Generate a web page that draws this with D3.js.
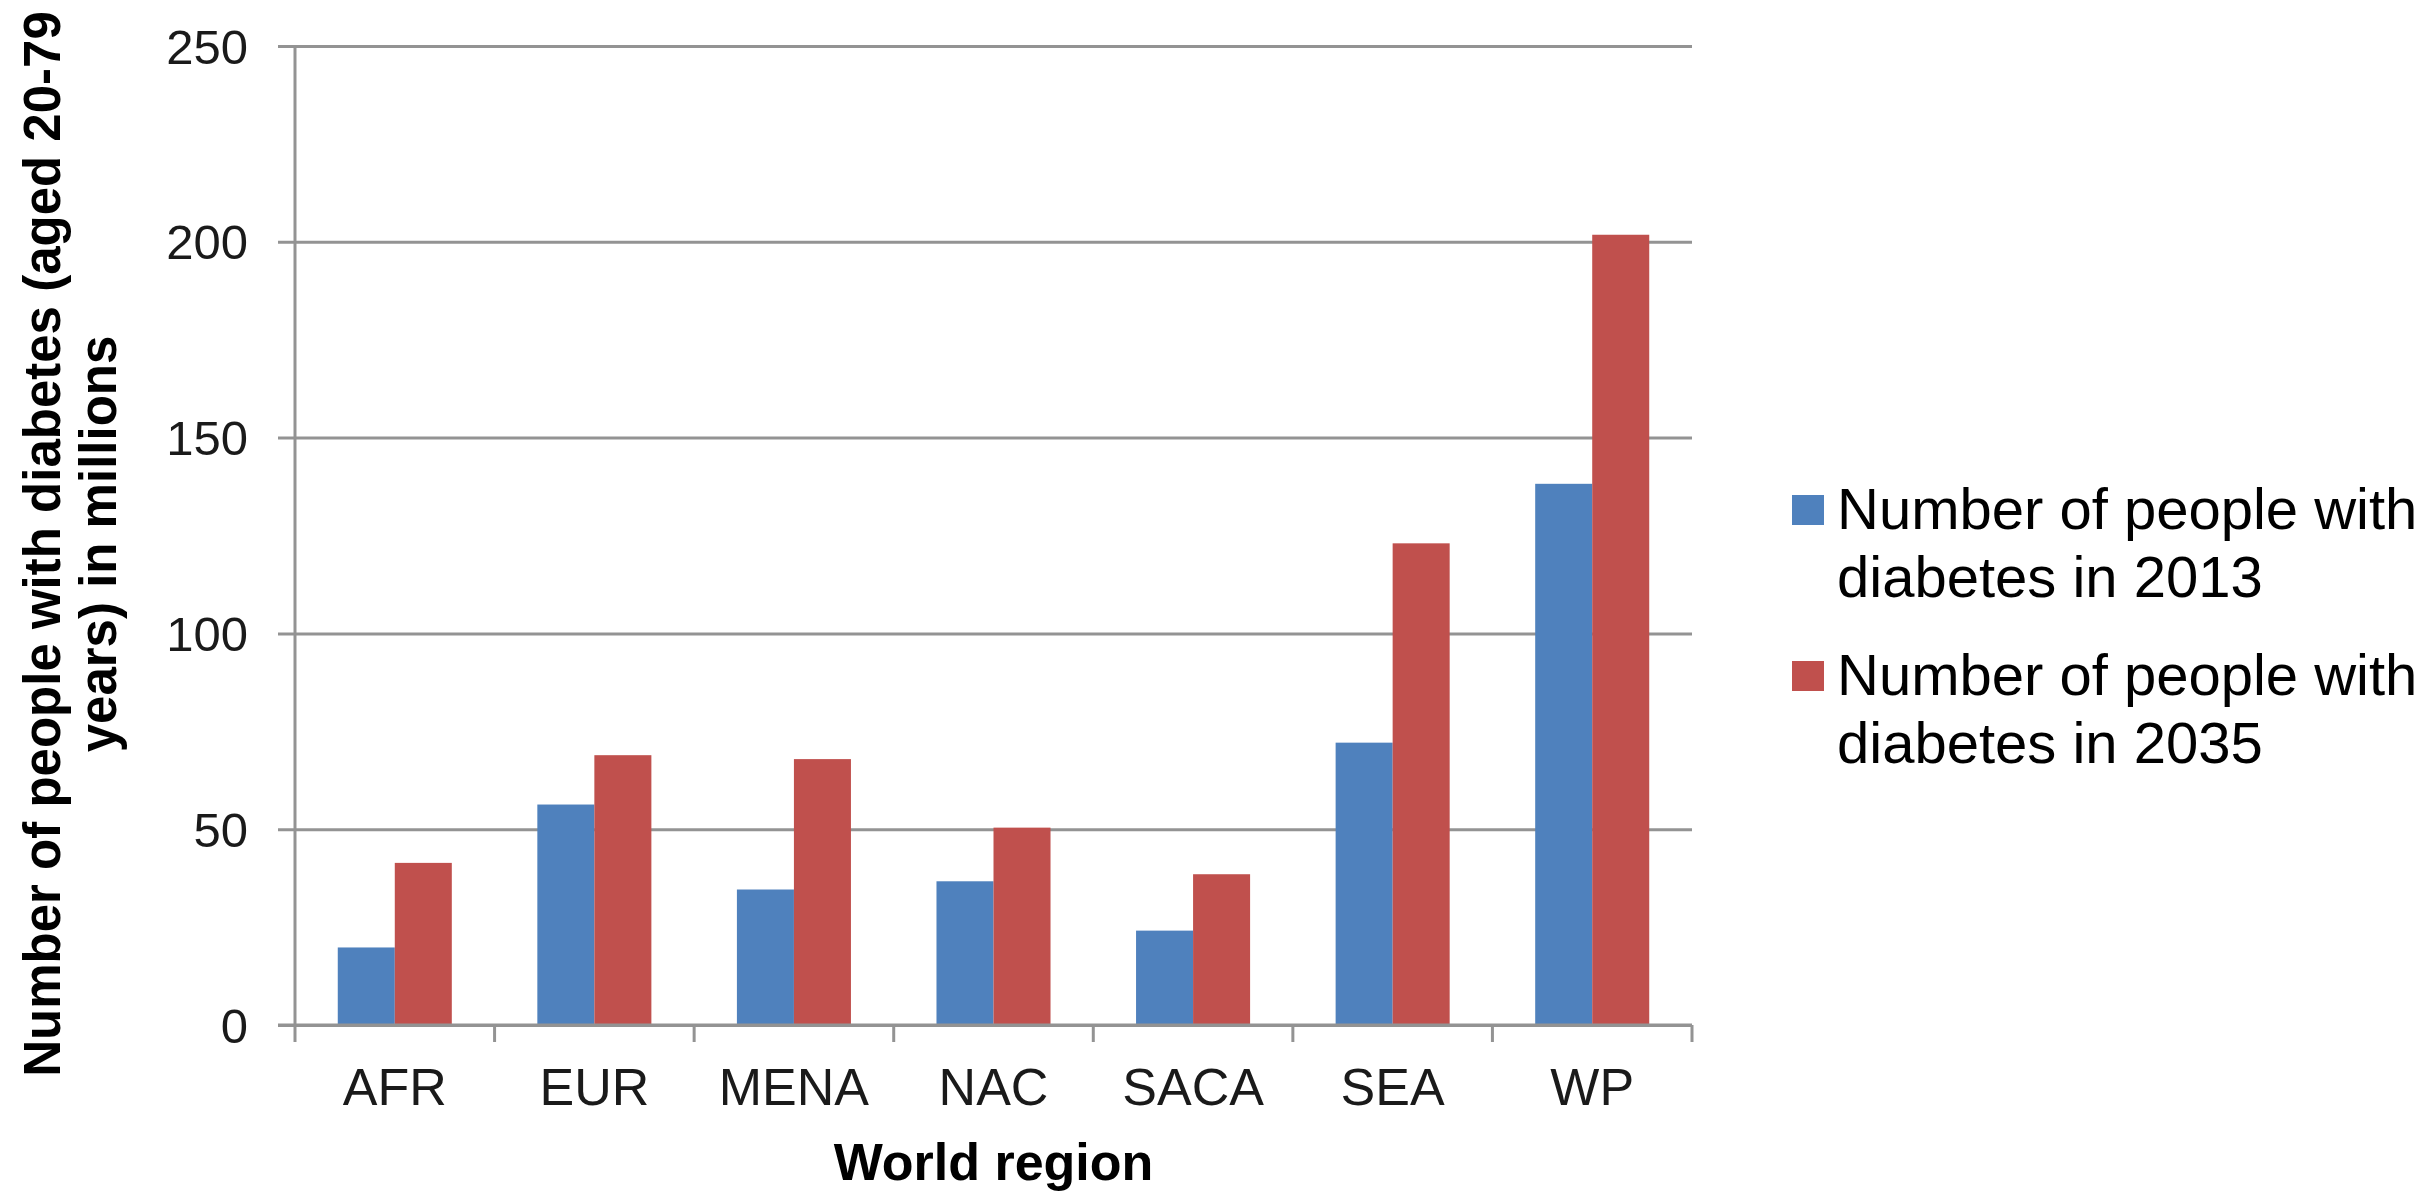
<!DOCTYPE html>
<html>
<head>
<meta charset="utf-8">
<script src="https://cdn.jsdelivr.net/npm/d3@7"></script>
<style>
  html, body { margin: 0; padding: 0; background: #fff; }
  svg { display: block; font-family: "Liberation Sans", Arial, sans-serif; }
</style>
</head>
<body>
<svg id="chart" width="2433" height="1191"></svg>
<script>
// Diabetes prevalence by IDF world region (millions, adults aged 20-79)
const regions = ["AFR", "EUR", "MENA", "NAC", "SACA", "SEA", "WP"];
const seriesNames = [
  "Number of people with diabetes in 2013",
  "Number of people with diabetes in 2035"
];
const values2013 = [19.8, 56.3, 34.6, 36.7, 24.1, 72.1, 138.2];
const values2035 = [41.4, 68.9, 67.9, 50.4, 38.5, 123.0, 201.8];
const yTicks = [0, 50, 100, 150, 200, 250];
const colors = ["#4F81BD", "#C0504D"];

const svg = d3.select("#chart");
const margin = { left: 295, right: 2433 - 1692, top: 46, bottom: 1191 - 1025 };
const W = 2433, H = 1191;
const plotL = margin.left, plotR = W - margin.right;
const plotT = margin.top, plotB = H - margin.bottom;

const x = d3.scaleBand().domain(regions).range([plotL, plotR]).paddingInner(0).paddingOuter(0);
const xInner = d3.scaleBand().domain([0, 1]).range([0, x.bandwidth()]).paddingInner(0).paddingOuter(0.75);
const y = d3.scaleLinear().domain([0, 250]).range([plotB, plotT]);

const axisColor = "#939393";

// horizontal gridlines with small cross ticks at the left of the value axis
const grid = svg.append("g")
  .attr("transform", `translate(${plotL},0)`)
  .call(d3.axisLeft(y).tickValues(yTicks).tickSize(-(plotR - plotL)).tickFormat(""));
grid.select(".domain").remove();
grid.selectAll(".tick line")
  .attr("stroke", axisColor).attr("stroke-width", 3)
  .attr("x1", -17);

// bars
const rows = regions.map((r, i) => ({ region: r, vals: [values2013[i], values2035[i]] }));
const groups = svg.append("g").selectAll("g").data(rows).join("g")
  .attr("transform", d => `translate(${x(d.region)},0)`);
groups.selectAll("rect")
  .data(d => d.vals.map((v, k) => ({ v, k })))
  .join("rect")
  .attr("x", d => xInner(d.k))
  .attr("width", xInner.bandwidth())
  .attr("y", d => y(d.v))
  .attr("height", d => y(0) - y(d.v))
  .attr("fill", d => colors[d.k]);

// value axis line
svg.append("line")
  .attr("x1", plotL).attr("x2", plotL)
  .attr("y1", plotT).attr("y2", plotB + 17)
  .attr("stroke", axisColor).attr("stroke-width", 3);

// category axis with tick marks between regions
const xAxisLine = svg.append("g");
xAxisLine.append("line")
  .attr("x1", plotL - 17).attr("x2", plotR)
  .attr("y1", plotB).attr("y2", plotB)
  .attr("stroke", axisColor).attr("stroke-width", 3);
const boundaries = regions.map(r => x(r) + x.bandwidth());
xAxisLine.selectAll("line.tk").data(boundaries).join("line")
  .attr("class", "tk")
  .attr("x1", d => d).attr("x2", d => d)
  .attr("y1", plotB).attr("y2", plotB + 17)
  .attr("stroke", axisColor).attr("stroke-width", 3);

// y tick labels
svg.append("g").selectAll("text").data(yTicks).join("text")
  .attr("x", 248)
  .attr("y", d => y(d))
  .attr("dy", "0.36em")
  .attr("text-anchor", "end")
  .attr("font-size", 49)
  .attr("fill", "#1a1a1a")
  .text(d => d);

// category labels
svg.append("g").selectAll("text").data(regions).join("text")
  .attr("x", d => x(d) + x.bandwidth() / 2)
  .attr("y", 1105)
  .attr("text-anchor", "middle")
  .attr("font-size", 52)
  .attr("fill", "#1a1a1a")
  .text(d => d);

// axis titles
svg.append("text")
  .attr("x", (plotL + plotR) / 2)
  .attr("y", 1180)
  .attr("text-anchor", "middle")
  .attr("font-size", 52)
  .attr("font-weight", "bold")
  .attr("fill", "#000")
  .text("World region");

const yTitle = svg.append("text")
  .attr("transform", "translate(0,544) rotate(-90)")
  .attr("text-anchor", "middle")
  .attr("font-size", 51)
  .attr("font-weight", "bold")
  .attr("fill", "#000");
yTitle.append("tspan").attr("x", 0).attr("y", 60).text("Number of people with diabetes (aged 20-79");
yTitle.append("tspan").attr("x", 0).attr("y", 116).text("years) in millions");

// legend
const legendRows = [
  { top: 495, lines: ["Number of people with", "diabetes in 2013"], base: 529 },
  { top: 661, lines: ["Number of people with", "diabetes in 2035"], base: 695 }
];
const legend = svg.append("g");
legendRows.forEach((row, k) => {
  legend.append("rect")
    .attr("x", 1792).attr("y", row.top)
    .attr("width", 32).attr("height", 30)
    .attr("fill", colors[k]);
  const t = legend.append("text")
    .attr("font-size", 58)
    .attr("fill", "#000")
    .attr("aria-label", seriesNames[k]);
  row.lines.forEach((ln, j) => {
    t.append("tspan").attr("x", 1837).attr("y", row.base + j * 68).text(ln);
  });
});
</script>
</body>
</html>
